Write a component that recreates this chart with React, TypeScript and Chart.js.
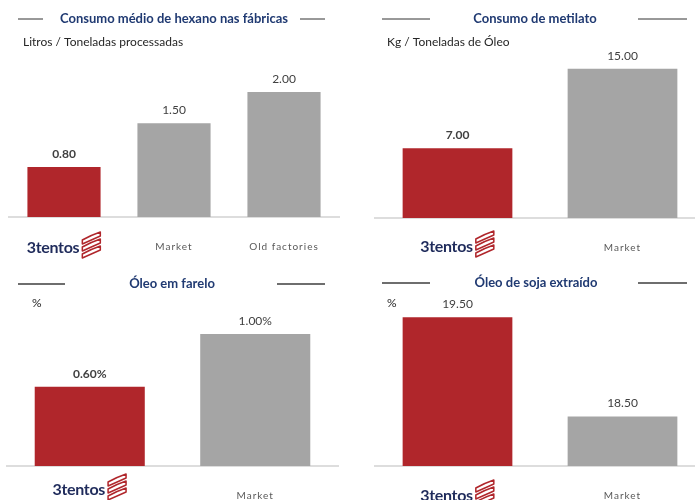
import React, { useEffect, useRef } from 'react';
import { Chart, registerables } from 'chart.js';

Chart.register(...registerables);

const FONT = 'Lato, "Liberation Sans", sans-serif';
const RED = '#B0262B';
const GRAY = '#A5A5A5';
const NAVY = '#203A72';

// ---- data ----
const hexanoCategories = ['3tentos', 'Market', 'Old factories'];
const hexanoValues = [0.8, 1.5, 2.0];

const metilatoCategories = ['3tentos', 'Market'];
const metilatoValues = [7.0, 15.0];

const fareloCategories = ['3tentos', 'Market'];
const fareloValues = [0.6, 1.0];

const sojaCategories = ['3tentos', 'Market'];
const sojaValues = [19.5, 18.5];

const panelTitles = [
  'Consumo médio de hexano nas fábricas',
  'Consumo de metilato',
  'Óleo em farelo',
  'Óleo de soja extraído',
];
const panelSubtitles = ['Litros / Toneladas processadas', 'Kg / Toneladas de Óleo', '%', '%'];
const valueSuffixes = ['', '', '%', ''];

// axis ranges
const hexanoRange = [0, 2.512];
const metilatoRange = [0, 15.88];
const farelRange = [0, 1.2424];
const sojaRange = [18, 19.653];

function drawMark(ctx: CanvasRenderingContext2D, x: number, y: number) {
  ctx.save();
  ctx.strokeStyle = RED;
  ctx.lineWidth = 1.5;
  ctx.lineJoin = 'round';
  for (let i = 0; i < 3; i++) {
    const oy = y + i * 7;
    ctx.beginPath();
    ctx.moveTo(x + 1, oy + 9);
    ctx.quadraticCurveTo(x + 10, oy + 4, x + 19, oy + 1);
    ctx.lineTo(x + 19, oy + 5);
    ctx.quadraticCurveTo(x + 10, oy + 9, x + 1, oy + 13);
    ctx.closePath();
    ctx.stroke();
  }
  ctx.restore();
}

const decorPlugin = {
  id: 'panelDecor',
  beforeDraw(chart: any) {
    (chart.ctx as any).letterSpacing = '1px';
  },
  beforeDatasetsDraw(chart: any) {
    (chart.ctx as any).letterSpacing = '0px';
  },
  afterDraw(chart: any, _args: any, o: any) {
    const ctx: CanvasRenderingContext2D = chart.ctx;
    ctx.save();
    (ctx as any).letterSpacing = '0px';
    // title rules
    ctx.strokeStyle = o.lineColor;
    ctx.lineWidth = o.lineWidth;
    ctx.beginPath();
    ctx.moveTo(o.lineX1, o.titleY);
    ctx.lineTo(o.gapX1, o.titleY);
    ctx.moveTo(o.gapX2, o.titleY);
    ctx.lineTo(o.lineX2, o.titleY);
    ctx.stroke();
    // title
    ctx.fillStyle = NAVY;
    ctx.font = `bold 13px ${FONT}`;
    ctx.textAlign = 'center';
    ctx.textBaseline = 'middle';
    ctx.fillText(o.title, o.titleX, o.titleY);
    // subtitle
    ctx.font = `12px ${FONT}`;
    ctx.fillStyle = '#262626';
    ctx.textAlign = 'left';
    ctx.fillText(o.subtitle, o.subX, o.subY);
    // value labels
    const meta = chart.getDatasetMeta(0);
    const data = chart.data.datasets[0].data;
    ctx.textAlign = 'center';
    meta.data.forEach((bar: any, i: number) => {
      const bold = i === 0 && o.boldFirst;
      ctx.font = `${bold ? 'bold ' : ''}12px ${FONT}`;
      ctx.fillStyle = '#404040';
      ctx.fillText(Number(data[i]).toFixed(2) + o.suffix, bar.x, bar.y - 13);
    });
    // logo for first category
    const xs = chart.scales.x;
    const cx = xs.getPixelForValue(0);
    const ty = chart.chartArea.bottom + o.logoDy;
    ctx.font = `bold 16px ${FONT}`;
    ctx.fillStyle = '#1F2B5B';
    ctx.textAlign = 'left';
    ctx.textBaseline = 'middle';
    (ctx as any).letterSpacing = '-0.3px';
    const label = chart.data.labels[0];
    const tw = ctx.measureText(label).width;
    const gw = tw + 2 + 20;
    const left = cx - gw / 2;
    ctx.fillText(label, left, ty);
    drawMark(ctx, left + tw + 2, ty - 17);
    ctx.restore();
  },
};

type PanelCfg = {
  left: number; top: number; width: number; height: number;
  padL: number; padR: number; padT: number; axisH: number;
  range: number[]; categories: string[]; values: number[];
  decor: any;
};

function Panel({ cfg }: { cfg: PanelCfg }) {
  const ref = useRef<HTMLCanvasElement>(null);
  useEffect(() => {
    const canvas = ref.current!;
    const colors = cfg.categories.map((_, i) => (i === 0 ? RED : GRAY));
    const chart = new Chart(canvas, {
      type: 'bar',
      data: {
        labels: cfg.categories,
        datasets: [
          {
            data: cfg.values,
            backgroundColor: colors,
            borderWidth: 0,
            barPercentage: 0.665,
            categoryPercentage: 1,
          },
        ],
      },
      options: {
        responsive: false,
        animation: false,
        devicePixelRatio: 1,
        layout: { padding: { left: cfg.padL, right: cfg.padR, top: cfg.padT, bottom: 0 } },
        plugins: {
          legend: { display: false },
          tooltip: { enabled: false },
          title: { display: false },
          panelDecor: cfg.decor,
        } as any,
        scales: {
          x: {
            type: 'category',
            grid: { display: false, drawTicks: false, tickLength: 0 },
            border: { display: true, color: '#DDDDDD', width: 2 },
            ticks: {
              autoSkip: false,
              maxRotation: 0,
              padding: 24,
              color: '#595959',
              font: { size: 10, family: FONT },
              callback: function (this: any, value: any, index: number) {
                return index === 0 ? '' : this.getLabelForValue(value);
              },
            },
            afterFit: (scale: any) => {
              scale.height = cfg.axisH;
            },
          },
          y: { display: false, min: cfg.range[0], max: cfg.range[1] },
        },
      } as any,
      plugins: [decorPlugin],
    });
    return () => chart.destroy();
  }, [cfg]);
  return (
    <canvas
      ref={ref}
      width={cfg.width}
      height={cfg.height}
      style={{ position: 'absolute', left: cfg.left, top: cfg.top, width: cfg.width, height: cfg.height }}
    />
  );
}

const panels: PanelCfg[] = [
  {
    left: 0, top: 0, width: 347, height: 262, padL: 9, padR: 8, padT: 60, axisH: 45,
    range: hexanoRange, categories: hexanoCategories, values: hexanoValues,
    decor: {
      title: panelTitles[0], subtitle: panelSubtitles[0], suffix: valueSuffixes[0],
      titleX: 174, titleY: 19, lineX1: 18, lineX2: 325, gapX1: 43, gapX2: 300,
      lineColor: '#333333', lineWidth: 1, subX: 23, subY: 42, logoDy: 31, boldFirst: true,
    },
  },
  {
    left: 347, top: 0, width: 365, height: 262, padL: 28, padR: 7, padT: 60, axisH: 44,
    range: metilatoRange, categories: metilatoCategories, values: metilatoValues,
    decor: {
      title: panelTitles[1], subtitle: panelSubtitles[1], suffix: valueSuffixes[1],
      titleX: 188, titleY: 19, lineX1: 35, lineX2: 340, gapX1: 83, gapX2: 291,
      lineColor: '#333333', lineWidth: 1, subX: 40, subY: 42, logoDy: 29, boldFirst: true,
    },
  },
  {
    left: 0, top: 262, width: 347, height: 238, padL: 7, padR: 9, padT: 40, axisH: 34,
    range: farelRange, categories: fareloCategories, values: fareloValues,
    decor: {
      title: panelTitles[2], subtitle: panelSubtitles[2], suffix: valueSuffixes[2],
      titleX: 172, titleY: 22, lineX1: 18, lineX2: 325, gapX1: 65, gapX2: 277,
      lineColor: '#6E6E6E', lineWidth: 2, subX: 32, subY: 41, logoDy: 24, boldFirst: true,
    },
  },
  {
    left: 347, top: 262, width: 365, height: 238, padL: 28, padR: 7, padT: 40, axisH: 34,
    range: sojaRange, categories: sojaCategories, values: sojaValues,
    decor: {
      title: panelTitles[3], subtitle: panelSubtitles[3], suffix: valueSuffixes[3],
      titleX: 189, titleY: 21, lineX1: 35, lineX2: 340, gapX1: 83, gapX2: 291,
      lineColor: '#6E6E6E', lineWidth: 2, subX: 40, subY: 41, logoDy: 30, boldFirst: false,
    },
  },
];

export default function App() {
  return (
    <div
      style={{
        position: 'fixed', left: 0, top: 0, width: 695, height: 500,
        overflow: 'hidden', background: '#FFFFFF',
      }}
    >
      {panels.map((p, i) => (
        <Panel key={i} cfg={p} />
      ))}
    </div>
  );
}
